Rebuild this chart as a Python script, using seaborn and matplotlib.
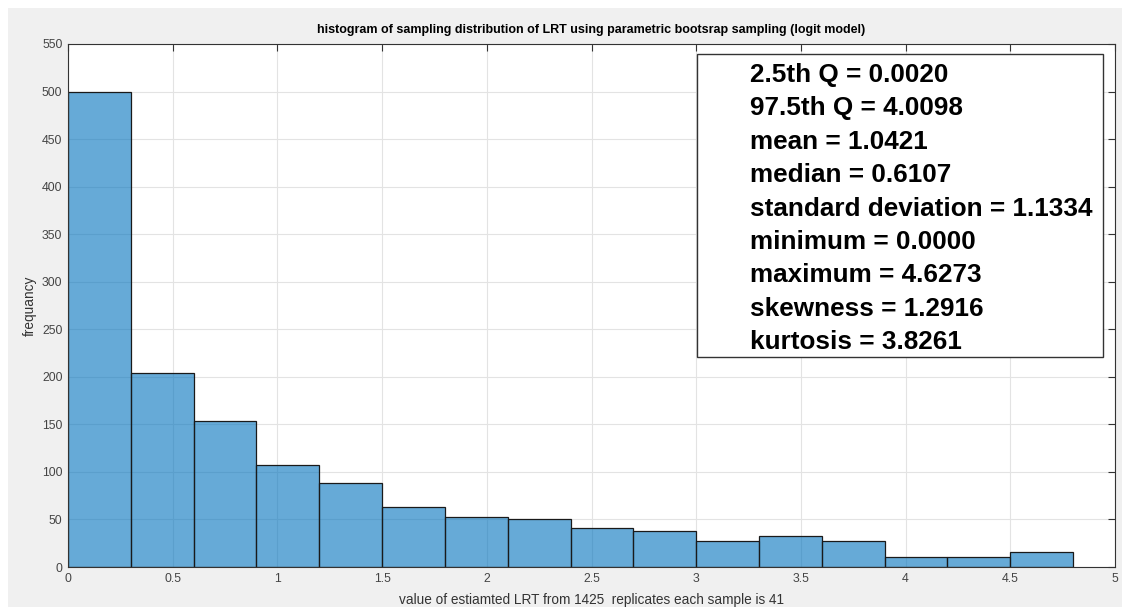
import matplotlib
matplotlib.use("Agg")
import matplotlib.pyplot as plt
import seaborn as sns
import numpy as np
import pandas as pd
from matplotlib.patches import Rectangle

# bin layout and counts of the bootstrapped LRT statistic
bin_edges = [0.0, 0.3, 0.6, 0.9, 1.2, 1.5, 1.8, 2.1, 2.4, 2.7, 3.0, 3.3, 3.6, 3.9, 4.2, 4.5, 4.8]
bin_counts = [500, 204, 154, 107, 88, 63, 53, 51, 41, 38, 27, 33, 27, 11, 11, 16]

x_ticks = [0, 0.5, 1, 1.5, 2, 2.5, 3, 3.5, 4, 4.5, 5]
x_tick_labels = ["0", "0.5", "1", "1.5", "2", "2.5", "3", "3.5", "4", "4.5", "5"]
y_ticks = list(range(0, 551, 50))

summary_lines = [
    "2.5th Q = 0.0020",
    "97.5th Q = 4.0098",
    "mean = 1.0421",
    "median = 0.6107",
    "standard deviation = 1.1334",
    "minimum = 0.0000",
    "maximum = 4.6273",
    "skewness = 1.2916",
    "kurtosis = 3.8261",
]

title = "histogram of sampling distribution of LRT using parametric bootsrap sampling (logit model)"
xlabel = "value of estiamted LRT from 1425  replicates each sample is 41"
ylabel = "frequancy"

sns.set_style("white")
plt.rcParams["font.family"] = ["Liberation Sans", "DejaVu Sans"]

W, H = 1122, 607
fig = plt.figure(figsize=(W / 100, H / 100), dpi=100)
fig.patch.set_facecolor("white")
# grey window background
fig.patches.append(Rectangle((8 / W, 0), 1 - 8 / W, 1 - 8 / H, transform=fig.transFigure,
                             facecolor="#f0f0f0", edgecolor="none", zorder=-10))

ax = fig.add_axes([68 / W, 1 - 567 / H, (1115 - 68) / W, (567 - 44) / H])
ax.set_facecolor("white")

centers = [(bin_edges[i] + bin_edges[i + 1]) / 2 for i in range(len(bin_counts))]
df = pd.DataFrame({"lrt": centers, "count": bin_counts})
sns.histplot(data=df, x="lrt", weights="count", bins=bin_edges, ax=ax,
             color=(0.0, 0.447, 0.741), alpha=0.6, edgecolor="#1a1a1a", linewidth=0.9)

ax.set_xlim(0, 5)
ax.set_ylim(0, 550)
ax.set_xticks(x_ticks)
ax.set_xticklabels(x_tick_labels)
ax.set_yticks(y_ticks)

ax.grid(True, color="#e3e3e3", linewidth=0.8)
ax.set_axisbelow(True)

for s in ax.spines.values():
    s.set_color("#333333")
    s.set_linewidth(0.8)
ax.tick_params(axis="both", direction="in", length=5, width=0.8, color="#333333",
               labelsize=8.8, labelcolor="#444444", top=True, right=True,
               labeltop=False, labelright=False, pad=4)

ax.set_title(title, fontsize=9, fontweight="bold", color="black", pad=8)
ax.set_xlabel(xlabel, fontsize=9.8, color="#333333", labelpad=6)
ax.set_ylabel(ylabel, fontsize=9.8, color="#333333", labelpad=4)


def px_to_axes(xp, yp):
    x0, y0 = 68, 567
    return (xp - x0) / (1115 - 68), (y0 - yp) / (567 - 44)


bx0, by0 = px_to_axes(697, 357)
bx1, by1 = px_to_axes(1103, 54)
ax.add_patch(Rectangle((bx0, by0), bx1 - bx0, by1 - by0, transform=ax.transAxes,
                       facecolor="white", edgecolor="#333333", linewidth=1.0, zorder=5))

first_y, step = 75, 33.4
for i, line in enumerate(summary_lines):
    tx, ty = px_to_axes(750, first_y + i * step)
    ax.text(tx, ty, line, transform=ax.transAxes, fontsize=18.8, fontweight="bold",
            color="black", ha="left", va="center", zorder=6)

fig.savefig("out.png", dpi=100, facecolor=fig.get_facecolor())
